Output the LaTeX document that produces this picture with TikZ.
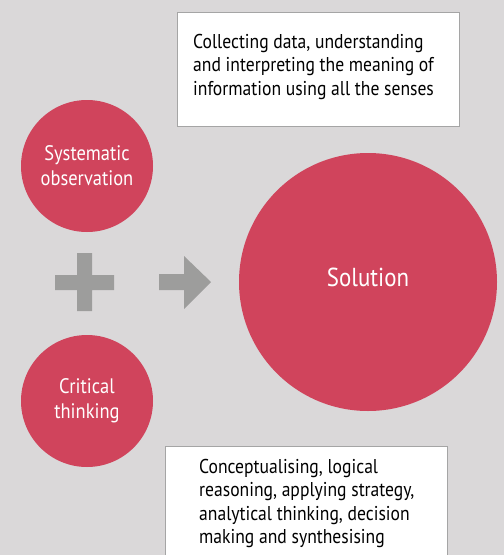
\documentclass[tikz,border=0pt]{standalone}
\usepackage{fontspec}
\setmainfont[FakeStretch=0.88]{PT Sans}
\definecolor{bgGrey}{HTML}{DAD8D9}
\definecolor{rose}{HTML}{D0445C}
\definecolor{signGrey}{HTML}{9D9D9C}
\definecolor{edgeGrey}{HTML}{A5A5A5}
\begin{document}
\begin{tikzpicture}[x=1pt,y=-1pt,
	blob/.style={circle,fill=rose,text=white,align=center,inner sep=0},
	infobox/.style={draw=edgeGrey,fill=white,line width=1pt},
	txt/.style={align=left,inner sep=0,anchor=north west,font=\fontsize{20}{23.3}\selectfont}]
\fill[bgGrey] (0,0) rectangle (504,555);
\useasboundingbox (0,0) rectangle (504,555);
\clip (0,0) rectangle (504,555);
% boxes
\draw[infobox] (177,12) rectangle (459,126);
\node[txt] (senses) at (193,34) {Collecting data, understanding\\and interpreting the meaning of\\information using all the senses};
\draw[infobox] (165,446) rectangle (447,570);
\node[txt] (skills) at (199,459) {Conceptualising, logical\\reasoning, applying strategy,\\analytical thinking, decision\\making and synthesising};
% circles
\node[blob,minimum size=132,font=\fontsize{21}{25}\selectfont] (obs) at (87,166) {Systematic\\observation};
\node[blob,minimum size=132,font=\fontsize{21}{25}\selectfont] (crit) at (87,401) {Critical\\thinking};
\node[blob,minimum size=258,font=\fontsize{26}{30}\selectfont] (sol) at (368,282) {\raisebox{9pt}{Solution}};
% plus and arrow
\fill[signGrey] (77,253) rectangle (92,311) (55,275) rectangle (114,290);
\fill[signGrey] (159,274) -- (184,274) -- (184,256) -- (211,282) -- (184,309) -- (184,290) -- (159,290) -- cycle;
\end{tikzpicture}
\end{document}
